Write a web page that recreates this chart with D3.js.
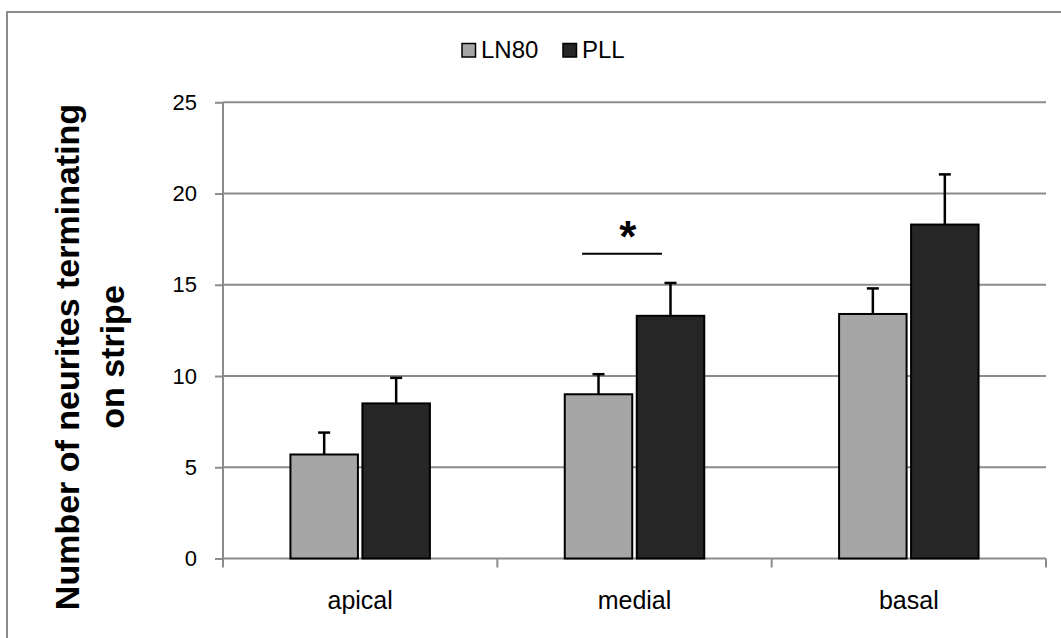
<!DOCTYPE html>
<html>
<head>
<meta charset="utf-8">
<script src="https://cdn.jsdelivr.net/npm/d3@7"></script>
<style>
  html, body { margin: 0; padding: 0; background: #fff; }
  svg { display: block; }
  text { font-family: "Liberation Sans", Arial, sans-serif; }
</style>
</head>
<body>
<svg id="chart" width="1061" height="638"></svg>
<script>
// Neurites terminating on stripe, by stripe region and substrate
const categories = ["apical", "medial", "basal"];
const seriesNames = ["LN80", "PLL"];
const seriesColors = ["#a6a6a6", "#262626"];
const ln80Values = [5.7, 9.0, 13.4];
const ln80Errors = [1.2, 1.1, 1.4];
const pllValues = [8.5, 13.3, 18.3];
const pllErrors = [1.4, 1.8, 2.75];
const yTicks = [0, 5, 10, 15, 20, 25];
const yTitleLines = ["Number of neurites terminating", "on stripe"];
const significance = { category: "medial", level: 16.7, label: "*" };

const svg = d3.select("#chart");
const plot = { left: 223, right: 1046, top: 102.3, bottom: 558.5 };

// outer chart frame
svg.append("rect")
  .attr("x", 7).attr("y", 12)
  .attr("width", 1100).attr("height", 700)
  .attr("fill", "none").attr("stroke", "#8c8c8c").attr("stroke-width", 2);

const x = d3.scaleBand().domain(categories).range([plot.left, plot.right]).padding(0);
const y = d3.scaleLinear().domain([0, 25]).range([plot.bottom, plot.top]);

const bw = x.bandwidth();
const barW = bw * 0.246;
const barGap = 4.5;
const seriesOffset = [-barGap / 2 - barW, barGap / 2];

// horizontal gridlines
svg.append("g").selectAll("line")
  .data(yTicks.filter(t => t > 0))
  .join("line")
  .attr("x1", plot.left).attr("x2", plot.right)
  .attr("y1", d => y(d)).attr("y2", d => y(d))
  .attr("stroke", "#8c8c8c").attr("stroke-width", 2);

// y axis
const yAxis = d3.axisLeft(y).tickValues(yTicks).tickSize(8).tickPadding(18);
const gy = svg.append("g").attr("transform", `translate(${plot.left},0)`).call(yAxis);
gy.select(".domain").attr("stroke", "#8c8c8c").attr("stroke-width", 2)
  .attr("d", `M0,${plot.top}V${plot.bottom}`);
gy.selectAll(".tick line").attr("stroke", "#8c8c8c").attr("stroke-width", 2);
gy.selectAll(".tick text").attr("font-size", 22).attr("fill", "#000")
  .attr("font-family", "'Liberation Sans', Arial, sans-serif");

// x axis
const gx = svg.append("g").attr("transform", `translate(0,${plot.bottom})`);
gx.append("line").attr("x1", plot.left).attr("x2", plot.right)
  .attr("stroke", "#8c8c8c").attr("stroke-width", 2);
const bounds = categories.map(c => x(c)).concat([x(categories[categories.length - 1]) + bw]);
gx.selectAll("line.tk").data(bounds).join("line").attr("class", "tk")
  .attr("x1", d => d).attr("x2", d => d).attr("y1", 0).attr("y2", 9)
  .attr("stroke", "#8c8c8c").attr("stroke-width", 2);
gx.selectAll("text").data(categories).join("text")
  .attr("x", d => x(d) + bw / 2).attr("y", 50)
  .attr("text-anchor", "middle").attr("font-size", 25).attr("fill", "#000")
  .text(d => d);

// bars and error bars
const series = [
  { values: ln80Values, errors: ln80Errors },
  { values: pllValues, errors: pllErrors }
];
series.forEach((s, si) => {
  const g = svg.append("g");
  const data = categories.map((c, i) => ({ c, v: s.values[i], e: s.errors[i] }));
  const cx = d => x(d.c) + bw / 2 + seriesOffset[si];
  // error bars (upper only)
  g.selectAll("line.err").data(data).join("line").attr("class", "err")
    .attr("x1", d => cx(d) + barW / 2).attr("x2", d => cx(d) + barW / 2)
    .attr("y1", d => y(d.v)).attr("y2", d => y(d.v + d.e))
    .attr("stroke", "#000").attr("stroke-width", 2.5);
  g.selectAll("line.cap").data(data).join("line").attr("class", "cap")
    .attr("x1", d => cx(d) + barW / 2 - 6).attr("x2", d => cx(d) + barW / 2 + 6)
    .attr("y1", d => y(d.v + d.e)).attr("y2", d => y(d.v + d.e))
    .attr("stroke", "#000").attr("stroke-width", 2.5);
  g.selectAll("rect").data(data).join("rect")
    .attr("x", d => cx(d)).attr("width", barW)
    .attr("y", d => y(d.v)).attr("height", d => y(0) - y(d.v))
    .attr("fill", seriesColors[si]).attr("stroke", "#000").attr("stroke-width", 2);
});

// significance marker
const sx0 = x(significance.category) + bw * 0.309;
const sx1 = x(significance.category) + bw * 0.600;
svg.append("line")
  .attr("x1", sx0).attr("x2", sx1)
  .attr("y1", y(significance.level)).attr("y2", y(significance.level))
  .attr("stroke", "#000").attr("stroke-width", 2);
svg.append("text")
  .attr("x", x(significance.category) + bw * 0.476).attr("y", y(significance.level) - 2)
  .attr("text-anchor", "middle").attr("font-size", 44).attr("font-weight", "bold")
  .attr("fill", "#000")
  .text(significance.label);

// legend
const legendPos = [462, 563];
const lg = svg.append("g");
seriesNames.forEach((name, i) => {
  lg.append("rect").attr("x", legendPos[i]).attr("y", 43.5)
    .attr("width", 13.5).attr("height", 13.5)
    .attr("fill", seriesColors[i]).attr("stroke", "#000").attr("stroke-width", 1.5);
  lg.append("text").attr("x", legendPos[i] + 19).attr("y", 58)
    .attr("font-size", 24).attr("fill", "#000").text(name);
});

// y axis title
const yt = svg.append("text")
  .attr("transform", `translate(0,357) rotate(-90)`)
  .attr("text-anchor", "middle").attr("font-weight", "bold").attr("font-size", 34)
  .attr("fill", "#000");
yt.append("tspan").attr("x", 0).attr("y", 79).text(yTitleLines[0]);
yt.append("tspan").attr("x", 0).attr("y", 124).text(yTitleLines[1]);
</script>
</body>
</html>
